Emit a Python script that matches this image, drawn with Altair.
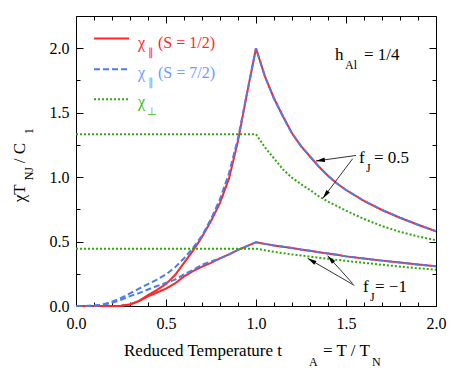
import math
import altair as alt
import pandas as pd

# ---------------- data ----------------
t_cold = [0.0, 0.05, 0.1, 0.15, 0.2, 0.25, 0.3, 0.35, 0.4, 0.45, 0.5,
          0.55, 0.6, 0.65, 0.7, 0.75, 0.8, 0.85, 0.9, 0.95, 1.0]
red_hi_cold = [0, 0, 0, 0, 0, 0.002, 0.012, 0.04, 0.085, 0.125, 0.17,
               0.24, 0.335, 0.43, 0.535, 0.66, 0.80, 0.99, 1.28, 1.65, 2.0]
red_lo_cold = [0, 0, 0, 0, 0, 0.002, 0.012, 0.038, 0.075, 0.105, 0.135,
               0.175, 0.23, 0.27, 0.305, 0.335, 0.37, 0.40, 0.435, 0.465, 0.495]
blue_hi_cold = [0, 0, 0.002, 0.012, 0.033, 0.062, 0.098, 0.135, 0.17, 0.205, 0.245,
                0.30, 0.37, 0.45, 0.545, 0.675, 0.83, 1.03, 1.3, 1.65, 2.0]
blue_lo_cold = [0, 0, 0.002, 0.01, 0.025, 0.048, 0.077, 0.1, 0.128, 0.155, 0.18,
                0.205, 0.245, 0.28, 0.32, 0.345, 0.37, 0.40, 0.435, 0.465, 0.495]

t_warm = [1.0, 1.05, 1.1, 1.15, 1.2, 1.25, 1.3, 1.35, 1.4, 1.45, 1.5,
          1.6, 1.7, 1.8, 1.9, 2.0]
par_hi_warm = [2.0, 1.78, 1.61, 1.47, 1.34, 1.24, 1.16, 1.08, 1.01, 0.95, 0.9,
               0.815, 0.745, 0.685, 0.63, 0.58]
par_lo_warm = [0.495, 0.482, 0.47, 0.46, 0.45, 0.438, 0.428, 0.417, 0.407, 0.397, 0.385,
               0.368, 0.352, 0.337, 0.322, 0.308]

t_perp_hi = [0.0, 1.0, 1.05, 1.1, 1.15, 1.2, 1.25, 1.3, 1.35, 1.4, 1.45, 1.5,
             1.6, 1.7, 1.8, 1.9, 2.0]
perp_hi = [1.333, 1.333, 1.23, 1.145, 1.06, 0.995, 0.945, 0.9, 0.85, 0.81, 0.775, 0.74,
           0.675, 0.62, 0.575, 0.54, 0.51]
t_perp_lo = [0.0, 1.0, 1.1, 1.2, 1.3, 1.4, 1.5, 1.6, 1.7, 1.8, 1.9, 2.0]
perp_lo = [0.445, 0.445, 0.42, 0.40, 0.383, 0.366, 0.35, 0.335, 0.32, 0.306, 0.293, 0.282]

x_major = [0.0, 0.5, 1.0, 1.5, 2.0]
x_minor = [0.1, 0.2, 0.3, 0.4, 0.6, 0.7, 0.8, 0.9, 1.1, 1.2, 1.3, 1.4, 1.6, 1.7, 1.8, 1.9]
y_major = [0.0, 0.5, 1.0, 1.5, 2.0]
y_minor = [0.25, 0.75, 1.25, 1.75]

arrow_t0 = [1.556, 1.537, 1.546, 1.537]
arrow_v0 = [1.168, 1.143, 0.16, 0.174]
arrow_t1 = [1.333, 1.371, 1.287, 1.398]
arrow_v1 = [1.125, 0.835, 0.37, 0.39]

# ---------------- styling ----------------
W, H = 360, 290
XMAX, YMAX = 2.0, 2.25
FONT = "'Liberation Serif', 'Times New Roman', serif"
RED = "#ff2626"
BLUE = "#4a7cf0"
BLUE_TXT = "#6a9cff"
GREEN = "#2fa80c"
GREEN_TXT = "#3cbc10"

xs = alt.Scale(domain=[0, XMAX], nice=False, zero=False)
ys = alt.Scale(domain=[0, YMAX], nice=False, zero=False)


def frame(t, v, branch):
    return pd.DataFrame({"t": t, "v": v, "branch": branch})


red_df = pd.concat([frame(t_cold, red_hi_cold, "a"), frame(t_warm[1:], par_hi_warm[1:], "a"),
                    frame(t_cold, red_lo_cold, "b"), frame(t_warm[1:], par_lo_warm[1:], "b")])
blue_df = pd.concat([frame(t_cold, blue_hi_cold, "a"), frame(t_warm[1:], par_hi_warm[1:], "a"),
                     frame(t_cold, blue_lo_cold, "b"), frame(t_warm[1:], par_lo_warm[1:], "b")])
green_df = pd.concat([frame(t_perp_hi, perp_hi, "a"), frame(t_perp_lo, perp_lo, "b")])

label_x_axis = alt.Axis(orient="bottom", values=x_major, format=".1f", ticks=False, tickSize=0,
                        domain=False, grid=False, labelFont=FONT, labelFontSize=16,
                        labelColor="black", labelPadding=9, labelFlush=False, title=None)
label_y_axis = alt.Axis(orient="left", values=y_major, format=".1f", ticks=False, tickSize=0,
                        domain=False, grid=False, labelFont=FONT, labelFontSize=16,
                        labelColor="black", labelPadding=7, labelFlush=False, title=None)

red_line = alt.Chart(red_df).mark_line(color=RED, strokeWidth=2).encode(
    x=alt.X("t:Q", scale=xs, axis=label_x_axis),
    y=alt.Y("v:Q", scale=ys, axis=label_y_axis),
    detail="branch:N", order="t:Q")
blue_line = alt.Chart(blue_df).mark_line(color=BLUE, strokeWidth=2, strokeDash=[6, 3]).encode(
    x=alt.X("t:Q", scale=xs, axis=None), y=alt.Y("v:Q", scale=ys, axis=None),
    detail="branch:N", order="t:Q")
green_line = alt.Chart(green_df).mark_line(color=GREEN, strokeWidth=2, strokeDash=[2, 2]).encode(
    x=alt.X("t:Q", scale=xs, axis=None), y=alt.Y("v:Q", scale=ys, axis=None),
    detail="branch:N", order="t:Q")


def tick_layer(xvals, yvals, xo, yo, size):
    df = pd.DataFrame({"t": [0.0], "v": [0.0]})
    common = dict(labels=False, domain=False, grid=False, ticks=True, tickSize=size,
                  tickColor="black", tickWidth=1, offset=-size, title=None)
    return alt.Chart(df).mark_point(opacity=0).encode(
        x=alt.X("t:Q", scale=xs, axis=alt.Axis(orient=xo, values=xvals, **common)),
        y=alt.Y("v:Q", scale=ys, axis=alt.Axis(orient=yo, values=yvals, **common)))


ticks = [
    tick_layer(x_major, y_major, "bottom", "left", 7),
    tick_layer(x_minor, y_minor, "bottom", "left", 4),
    tick_layer(x_major, y_major, "top", "right", 7),
    tick_layer(x_minor, y_minor, "top", "right", 4),
]

# arrows
px_x = W / XMAX
px_y = H / YMAX
angles = []
for a, b, c, d in zip(arrow_t0, arrow_v0, arrow_t1, arrow_v1):
    dx = (c - a) * px_x
    dy = -(d - b) * px_y
    angles.append(math.degrees(math.atan2(dx, -dy)) % 360)
arrow_df = pd.DataFrame({"t0": arrow_t0, "v0": arrow_v0, "t1": arrow_t1, "v1": arrow_v1,
                         "ang": angles})
arrow_lines = alt.Chart(arrow_df).mark_rule(color="#333333", strokeWidth=1).encode(
    x=alt.X("t0:Q", scale=xs, axis=None), y=alt.Y("v0:Q", scale=ys, axis=None),
    x2="t1:Q", y2="v1:Q")
arrow_heads = alt.Chart(arrow_df).mark_point(
    shape="M0,0 L0.42,1.7 L-0.42,1.7 Z", filled=True, color="black", opacity=1, size=110,
    strokeWidth=0).encode(
    x=alt.X("t1:Q", scale=xs, axis=None), y=alt.Y("v1:Q", scale=ys, axis=None),
    angle=alt.Angle("ang:Q", scale=None))

one = pd.DataFrame({"k": [0]})


def txt(text, x, y, size=17, color="black", angle=None):
    kw = dict(text=text, font=FONT, fontSize=size, color=color, align="left",
              baseline="alphabetic")
    if angle is not None:
        kw["angle"] = angle
    return alt.Chart(one).mark_text(**kw).encode(x=alt.value(x), y=alt.value(y))


def legend_rule(color, y, dash=None):
    kw = dict(color=color, strokeWidth=2)
    if dash:
        kw["strokeDash"] = dash
    return alt.Chart(one).mark_rule(**kw).encode(x=alt.value(18), x2=alt.value(53), y=alt.value(y))


texts = [
    # legend
    legend_rule(RED, 22.6),
    legend_rule(BLUE, 53.3, [6, 3]),
    legend_rule(GREEN, 83.3, [2, 2]),
    txt("χ", 62, 32.3, 16, RED), txt("∥", 72, 39.5, 11, RED), txt("(S = 1/2)", 82, 32.3, 16, RED),
    txt("χ", 62, 62.3, 16, BLUE_TXT), txt("∥", 72, 69.5, 11, BLUE_TXT),
    txt("(S = 7/2)", 82, 62.3, 16, BLUE_TXT),
    txt("χ", 62, 91.3, 16, GREEN_TXT), txt("⊥", 71, 98.5, 11, GREEN_TXT),
    # annotations
    txt("h", 259, 44.3), txt("Al", 269, 52.5, 12), txt("= 1/4", 288, 44.3),
    txt("f", 283, 147.3), txt("J", 290, 156, 12), txt("= 0.5", 298, 147.3),
    txt("f", 287, 276.3), txt("J", 294, 284.5, 12), txt("= −1", 299, 276.3),
    # x title
    txt("Reduced Temperature t", 48, 339.5), txt("A", 233, 350, 12), txt("= T / T", 247, 339.5),
    txt("N", 296, 350, 12),
    # y title (rotated)
    txt("χT", -51, 186.3, angle=270), txt("NJ", -43, 164.3, 12, angle=270),
    txt(" / C", -51, 147.3, angle=270), txt("1", -43, 118.3, 12, angle=270),
]

chart = alt.layer(red_line, blue_line, green_line, *ticks, arrow_lines, arrow_heads, *texts).resolve_axis(
    x="independent", y="independent"
).properties(
    width=W, height=H,
    padding={"left": 68, "top": 8, "right": 13, "bottom": 62},
    autosize=alt.AutoSizeParams(type="none"),
    background="white",
).configure_view(stroke="black", strokeWidth=1).configure_axis(grid=False)

chart.save("out.html", embed_options={"renderer": "svg", "actions": False})
